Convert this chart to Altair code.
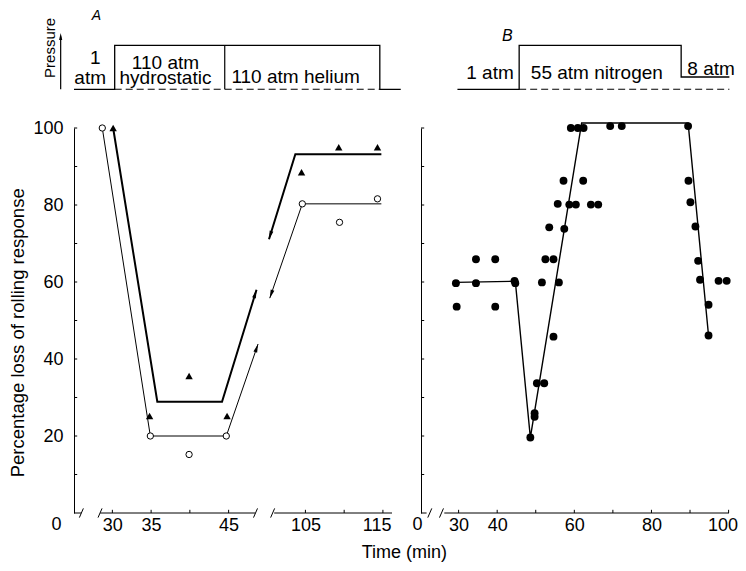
import math
import altair as alt
import pandas as pd

FONT = "Liberation Sans"

# ---------------- values ----------------
# Panel A: open circles and filled triangles (time in min, % loss of rolling response)
A_CIRCLE_T = [28.7, 34.9, 39.9, 44.7, 104.6, 109.4, 114.3]
A_CIRCLE_P = [100, 20, 15.2, 20, 80.3, 75.5, 81.6]
A_TRI_T = [30.1, 34.8, 39.9, 44.8, 104.5, 109.3, 114.3]
A_TRI_P = [100, 25.2, 35.6, 25.2, 88.5, 95.0, 95.0]
# fitted lines (each drawn in two pieces across the axis break)
A_THIN_T = [[28.7, 34.9, 44.7, 48.8], [100.4, 104.6, 114.8]]
A_THIN_P = [[100, 20, 20, 43.9], [55.8, 80.3, 80.3]]
A_THICK_T = [[30.1, 35.8, 44.15, 48.6], [100.3, 103.7, 114.8]]
A_THICK_P = [[100, 28.9, 28.9, 58.0], [71.1, 93.2, 93.2]]
A_TICKS = [30, 35, 40, 45, 105, 110, 115]
A_LABELS = [30, 35, 45, 105, 115]

# Panel B: filled circles
B_T = [29.3, 29.5, 34.5, 34.5, 39.5, 39.5, 44.5, 44.7, 48.6, 49.7, 49.7, 50.3, 52.2, 51.6,
       52.5, 53.5, 54.6, 54.6, 55.7, 56.0, 57.2, 57.4, 58.7, 59.1, 60.4, 60.9, 62.3, 62.4,
       64.3, 66.2, 69.3, 72.3, 89.5, 89.6, 90.1, 91.4, 92.1, 92.6, 94.8, 94.8, 97.4, 99.5]
B_P = [59.7, 53.6, 65.9, 59.7, 65.9, 53.6, 60.3, 59.7, 19.6, 25.9, 25.0, 33.7, 33.7, 59.9,
       65.9, 74.2, 65.9, 45.8, 80.3, 59.9, 86.3, 73.8, 80.1, 100, 80.1, 100, 86.3, 100,
       80.1, 80.1, 100.5, 100.5, 100.5, 86.3, 80.7, 74.4, 65.5, 60.6, 54.1, 46.1, 60.3, 60.3]
B_LINE_T = [29.3, 44.7, 48.6, 61.9, 89.5, 94.8]
B_LINE_P = [59.9, 60.2, 19.6, 101.3, 101.3, 46.1]
B_TICKS = [30, 40, 50, 60, 70, 80, 90, 100]
B_LABELS = [30, 40, 60, 80, 100]

Y_TICKS = [10, 20, 30, 40, 50, 60, 70, 80, 90, 100]
Y_LABELS = [20, 40, 60, 80, 100]

# pressure protocols: time (min) and level (0 = 1 atm, 1 = high pressure)
PA_T = [0, 30.3, 30.3, 114.6, 114.6, 117.3]
PA_L = [0, 0, 1, 1, 0, 0]
PA_DIVIDER_T = 44.5
PA_DASH_T = [30.3, 114.6]
PB_T = [29.7, 45.7, 45.7, 87.7, 87.7, 100.2]
PB_L = [0, 0, 1, 1, 0.28, 0.28]
PB_DASH_T = [45.7, 100.2]

# ---------------- layout (broken time axes) ----------------
KA, KB, KY = 7.75, 3.857, 3.85       # px per unit
WA, WB, H, HP = 318, 308, 385, 60
OA1, OA2, OB = 25.05, 75.14, 20.25   # offsets of the broken axes


def ua(t):
    return 0.0 if t < 20 else (t - OA1 if t < 75 else t - OA2)


def ub(t):
    return 0.0 if t < 20 else t - OB


SA = alt.Scale(domain=[0, WA / KA], nice=False, zero=False)
SB = alt.Scale(domain=[0, WB / KB], nice=False, zero=False)
SY = alt.Scale(domain=[0, 100], nice=False, zero=False)
SP = alt.Scale(domain=[-0.0386, 1.325], nice=False, zero=False)

BLACK = "black"
FS = 18
TICK = 3.2  # px
LPAD = 3


def X(field, sx, **kw):
    return alt.X(field, type="quantitative", scale=sx, **kw)


def Y(field, sy, **kw):
    return alt.Y(field, type="quantitative", scale=sy, **kw)


def x_axis(values, expr, flush, flush_offset):
    return alt.Axis(values=values, labelExpr=expr, domain=False, ticks=False, tickSize=0,
                    grid=False, labelFontSize=FS, labelColor=BLACK, labelPadding=LPAD,
                    labelFlush=flush, labelFlushOffset=flush_offset, labelOverlap=False,
                    title=None)


def y_axis(labels):
    if labels:
        return alt.Axis(values=Y_LABELS, ticks=False, tickSize=0, grid=False, domain=True,
                        domainColor=BLACK, domainWidth=1, labelFontSize=FS, labelColor=BLACK,
                        labelPadding=11, title=None)
    return alt.Axis(values=Y_LABELS, ticks=False, tickSize=0, grid=False, domain=True,
                    domainColor=BLACK, domainWidth=1, labels=False, title=None)


def panel(fx, sx, kx, ticks, labels, label_expr, flush, flush_offset, segments, slashes,
          zero_u, with_labels):
    # axis frame layer: carries both axes; inward ticks on the y axis
    ytk = pd.DataFrame({"y": Y_TICKS, "x0": 0.0, "x1": TICK / kx})
    ylayer = alt.Chart(ytk).mark_rule(color=BLACK, strokeWidth=1).encode(
        x=X("x0", sx, axis=x_axis([fx(t) for t in labels], label_expr, flush, flush_offset)),
        x2="x1:Q", y=Y("y", SY, axis=y_axis(with_labels)))
    xtk = pd.DataFrame({"u": [fx(t) for t in ticks], "y0": 0.0, "y1": TICK / KY})
    xlayer = alt.Chart(xtk).mark_rule(color=BLACK, strokeWidth=1).encode(
        x=X("u", sx), y=Y("y0", SY), y2="y1:Q")
    seg = pd.DataFrame({"u0": [s[0] for s in segments], "u1": [s[1] for s in segments], "y": 0.0})
    seglayer = alt.Chart(seg).mark_rule(color=BLACK, strokeWidth=1).encode(
        x=X("u0", sx), x2="u1:Q", y=Y("y", SY))
    dxs = 2.0 / kx
    dys = 4.6 / KY
    sl = pd.DataFrame({"u0": [c - dxs for c in slashes], "u1": [c + dxs for c in slashes],
                       "y0": -dys, "y1": dys})
    sllayer = alt.Chart(sl).mark_rule(color=BLACK, strokeWidth=1).encode(
        x=X("u0", sx), x2="u1:Q", y=Y("y0", SY), y2="y1:Q")
    zero = pd.DataFrame({"u": [zero_u], "y": [0.0], "t": ["0"]})
    zlayer = alt.Chart(zero).mark_text(fontSize=FS, baseline="top", dy=LPAD, color=BLACK).encode(
        x=X("u", sx), y=Y("y", SY), text="t:N")
    return [ylayer, xlayer, seglayer, sllayer, zlayer]


def line_df(ts, ps, fx):
    rows = []
    for k, (tt, pp) in enumerate(zip(ts, ps)):
        for i, (t, p) in enumerate(zip(tt, pp)):
            rows.append({"seg": k, "i": i, "u": fx(t), "y": p})
    return pd.DataFrame(rows)


def angle(fx, kx, t1, p1, t2, p2):
    dx = (fx(t2) - fx(t1)) * kx
    dy = (p2 - p1) * KY
    return math.degrees(math.atan2(dx, dy)) % 360


HEAD = "M0,0L0.5,2.2L-0.5,2.2Z"

# ---------------- panel A ----------------
a_layers = panel(ua, SA, KA, A_TICKS, A_LABELS,
                 f"datum.value < 25 ? '' + round(datum.value + {OA1}) : '' + round(datum.value + {OA2})",
                 10, 8,
                 [(0, 0.93), (3.38, 23.38), (25.83, WA / KA)], [0.95, 3.36, 23.42, 25.63],
                 -2.27, True)

thin = line_df(A_THIN_T, A_THIN_P, ua)
thick = line_df(A_THICK_T, A_THICK_P, ua)
a_thin = alt.Chart(thin).mark_line(color=BLACK, strokeWidth=1).encode(
    x=X("u", SA), y=Y("y", SY), detail="seg:N", order="i:Q")
a_thick = alt.Chart(thick).mark_line(color=BLACK, strokeWidth=2).encode(
    x=X("u", SA), y=Y("y", SY), detail="seg:N", order="i:Q")

arrows = []
for tt, pp in (A_THIN_T, A_THIN_P), (A_THICK_T, A_THICK_P):
    # arrow at the end of the first piece, and at the start of the second piece
    arrows.append({"u": ua(tt[0][-1]), "y": pp[0][-1],
                   "ang": angle(ua, KA, tt[0][-2], pp[0][-2], tt[0][-1], pp[0][-1])})
    arrows.append({"u": ua(tt[1][0]), "y": pp[1][0],
                   "ang": angle(ua, KA, tt[1][1], pp[1][1], tt[1][0], pp[1][0])})
a_arrows = alt.Chart(pd.DataFrame(arrows)).mark_point(
    shape=HEAD, filled=True, color=BLACK, size=60, opacity=1).encode(
    x=X("u", SA), y=Y("y", SY), angle=alt.Angle("ang:Q", scale=None))

a_circ = alt.Chart(pd.DataFrame({"u": [ua(t) for t in A_CIRCLE_T], "y": A_CIRCLE_P})).mark_point(
    shape="circle", filled=True, fill="white", stroke=BLACK, strokeWidth=1, size=40, opacity=1).encode(
    x=X("u", SA), y=Y("y", SY))
a_tri = alt.Chart(pd.DataFrame({"u": [ua(t) for t in A_TRI_T], "y": A_TRI_P})).mark_point(
    shape="triangle-up", filled=True, color=BLACK, size=55, opacity=1).encode(
    x=X("u", SA), y=Y("y", SY))
a_ytitle = alt.Chart(pd.DataFrame({"u": [-6.49], "y": [46.8],
                                   "t": ["Percentage loss of rolling response"]})).mark_text(
    fontSize=18.5, angle=270, baseline="alphabetic", color=BLACK).encode(
    x=X("u", SA), y=Y("y", SY), text="t:N")

panel_a = alt.layer(*a_layers, a_thin, a_thick, a_arrows, a_circ, a_tri, a_ytitle).properties(
    width=WA, height=H)

# ---------------- panel B ----------------
b_layers = panel(ub, SB, KB, B_TICKS, B_LABELS, f"'' + round(datum.value + {OB})", True, 9,
                 [(0, 1.45), (6.04, WB / KB)], [2.28, 5.31], -0.88, False)
b_line = alt.Chart(pd.DataFrame({"u": [ub(t) for t in B_LINE_T], "y": B_LINE_P,
                                 "i": list(range(len(B_LINE_T)))})).mark_line(
    color=BLACK, strokeWidth=1.4).encode(x=X("u", SB), y=Y("y", SY), order="i:Q")
b_pts = alt.Chart(pd.DataFrame({"u": [ub(t) for t in B_T], "y": B_P})).mark_circle(
    color=BLACK, size=62, opacity=1).encode(x=X("u", SB), y=Y("y", SY))
b_title = alt.Chart(pd.DataFrame({"u": [-4.33], "y": [0.0], "t": ["Time (min)"]})).mark_text(
    fontSize=FS, baseline="alphabetic", dy=45, color=BLACK).encode(
    x=X("u", SB), y=Y("y", SY), text="t:N")
panel_b = alt.layer(*b_layers, b_line, b_pts, b_title).properties(width=WB, height=H)


# ---------------- pressure protocols ----------------
def pressure(fx, sx, width, ts, ls, dash, texts, extra):
    step = pd.DataFrame({"u": [fx(t) for t in ts], "v": ls, "i": list(range(len(ts)))})
    layers = [alt.Chart(step).mark_line(color=BLACK, strokeWidth=1.3).encode(
        x=X("u", sx, axis=None), y=Y("v", SP, axis=None), order="i:Q")]
    d = pd.DataFrame({"u0": [fx(dash[0])], "u1": [fx(dash[1])], "v": [0.0]})
    layers.append(alt.Chart(d).mark_rule(color=BLACK, strokeWidth=1.1, strokeDash=[7, 4]).encode(
        x=X("u0", sx, axis=None), x2="u1:Q", y=Y("v", SP, axis=None)))
    for txt, u, v, size, style in texts:
        layers.append(alt.Chart(pd.DataFrame({"u": [u], "v": [v], "t": [txt]})).mark_text(
            fontSize=size, baseline="alphabetic", color=BLACK, fontStyle=style).encode(
            x=X("u", sx, axis=None), y=Y("v", SP, axis=None), text="t:N"))
    layers += extra
    return alt.layer(*layers).properties(width=width, height=HP)


PFS = 19
div = alt.Chart(pd.DataFrame({"u": [ua(PA_DIVIDER_T)], "v0": [0.0], "v1": [1.0]})).mark_rule(
    color=BLACK, strokeWidth=1.2).encode(
    x=X("u", SA, axis=None), y=Y("v0", SP, axis=None), y2="v1:Q")
parrow = alt.Chart(pd.DataFrame({"u": [-1.72], "v0": [0.0], "v1": [1.2]})).mark_rule(
    color=BLACK, strokeWidth=1.2).encode(
    x=X("u", SA, axis=None), y=Y("v0", SP, axis=None), y2="v1:Q")
phead = alt.Chart(pd.DataFrame({"u": [-1.72], "v": [1.28]})).mark_point(
    shape=HEAD, filled=True, color=BLACK, size=40, opacity=1).encode(
    x=X("u", SA, axis=None), y=Y("v", SP, axis=None))
plabel = alt.Chart(pd.DataFrame({"u": [-2.49], "v": [0.94], "t": ["Pressure"]})).mark_text(
    fontSize=15, angle=270, baseline="alphabetic", color=BLACK).encode(
    x=X("u", SA, axis=None), y=Y("v", SP, axis=None), text="t:N")

press_a = pressure(ua, SA, WA, PA_T, PA_L, PA_DASH_T, [
    ("A", 2.89, 1.575, 14, "italic"),
    ("1", 2.75, 0.575, PFS, "normal"),
    ("atm", 2.09, 0.12, PFS, "normal"),
    ("110 atm", 11.8, 0.47, PFS, "normal"),
    ("hydrostatic", 11.8, 0.12, PFS, "normal"),
    ("110 atm helium", 28.6, 0.143, PFS, "normal"),
], [div, parrow, phead, plabel])

press_b = pressure(ub, SB, WB, PB_T, PB_L, PB_DASH_T, [
    ("B", 22.4, 1.098, 16, "italic"),
    ("1 atm", 17.9, 0.227, PFS, "normal"),
    ("55 atm nitrogen", 45.6, 0.227, PFS, "normal"),
    ("8 atm", 75.2, 0.32, PFS, "normal"),
], [])

chart = alt.concat(press_a, press_b, panel_a, panel_b, columns=2,
                   spacing={"row": 37, "column": 29}, bounds="flush").properties(
    padding={"left": 0, "top": 0, "right": 0, "bottom": 0}
).configure(font=FONT, background="white").configure_view(stroke=None)

chart.save("out.html", embed_options={"renderer": "svg", "actions": False})
